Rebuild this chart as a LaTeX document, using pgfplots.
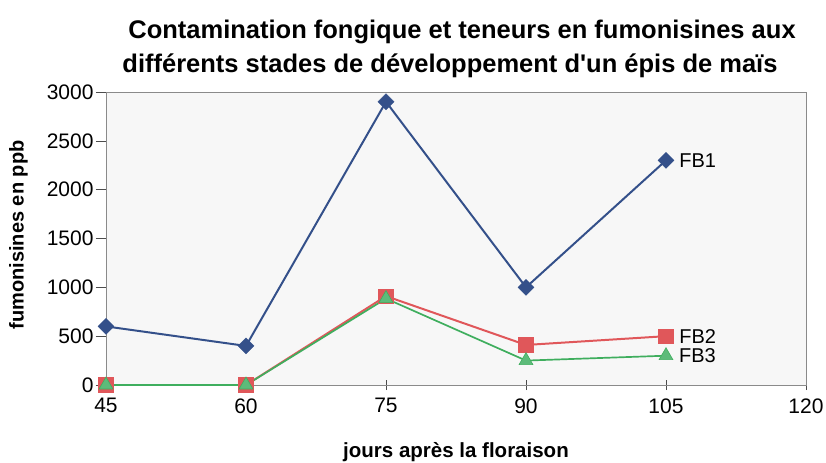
\documentclass[border=0pt]{standalone}
\usepackage{pgfplots}
\pgfplotsset{compat=1.18}
\usepackage{fontspec}
\setmainfont{Liberation Sans}
\definecolor{fbblue}{HTML}{34508A}
\definecolor{fbred}{HTML}{E0575A}
\definecolor{fbgreen}{HTML}{3FAE5E}
\definecolor{fbgreenfill}{HTML}{5DBB7A}
\definecolor{bordergray}{HTML}{8A8A8A}
\definecolor{bggray}{HTML}{F7F7F7}
\begin{document}
\begin{tikzpicture}
\path[use as bounding box] (-106bp,-78bp) rectangle (720bp,385bp);
\begin{axis}[
  at={(0,0)}, anchor=south west,
  scale only axis, width=700bp, height=293bp,
  xmin=45, xmax=120, ymin=0, ymax=3000,
  xtick={45,60,...,120}, ytick={0,500,...,3000},
  axis background/.style={fill=bggray},
  axis line style={draw=bordergray, line width=0.9pt},
  every tick/.style={draw=black!70, line width=0.6pt},
  xtick pos=bottom, ytick pos=left,
  xtick align=center, ytick align=outside,
  major tick length=10bp,
  ticklabel style={font=\fontsize{21bp}{24bp}\selectfont},
  xticklabel style={yshift=-5bp},
  yticklabel style={xshift=1bp},
  /pgf/number format/assume math mode=true,
  /pgf/number format/1000 sep={},
  xlabel={jours après la floraison},
  ylabel={fumonisines en ppb},
  xlabel style={font=\bfseries\fontsize{20.5bp}{24bp}\selectfont, at={(axis description cs:0.5,-0.228)}, anchor=center},
  ylabel style={font=\bfseries\fontsize{20bp}{24bp}\selectfont, at={(axis description cs:-0.125,0.512)}, anchor=center},
  clip=false,
]
\addplot[color=fbblue, line width=2pt, mark=square*, mark size=5.6bp, mark options={rotate=45, fill=fbblue, draw=fbblue, line width=0.5pt}]
  coordinates {(45,600) (60,400) (75,2900) (90,1000) (105,2300)}
  node[pos=1, right, xshift=9bp, text=black, font=\fontsize{20bp}{23bp}\selectfont] {FB1};
\addplot[color=fbred, line width=2pt, mark=square*, mark size=7.3bp, mark options={fill=fbred, draw=fbred, line width=0.5pt}]
  coordinates {(45,0) (60,0) (75,910) (90,410) (105,500)}
  node[pos=1, right, xshift=9bp, text=black, font=\fontsize{20bp}{23bp}\selectfont] {FB2};
\addplot[color=fbgreen, line width=1.7pt, mark=triangle*, mark size=8bp, mark options={fill=fbgreenfill, draw=fbgreen, line width=0.6pt}]
  coordinates {(45,0) (60,0) (75,885) (90,250) (105,300)}
  node[pos=1, right, xshift=9bp, text=black, font=\fontsize{20bp}{23bp}\selectfont] {FB3};
\end{axis}
\node[font=\bfseries\fontsize{25.5bp}{30bp}\selectfont] at (356bp,353bp) {Contamination fongique et teneurs en fumonisines aux};
\node[font=\bfseries\fontsize{25.5bp}{30bp}\selectfont] at (344bp,319bp) {différents stades de développement d\textquotesingle un épis de maïs};
\end{tikzpicture}
\end{document}
